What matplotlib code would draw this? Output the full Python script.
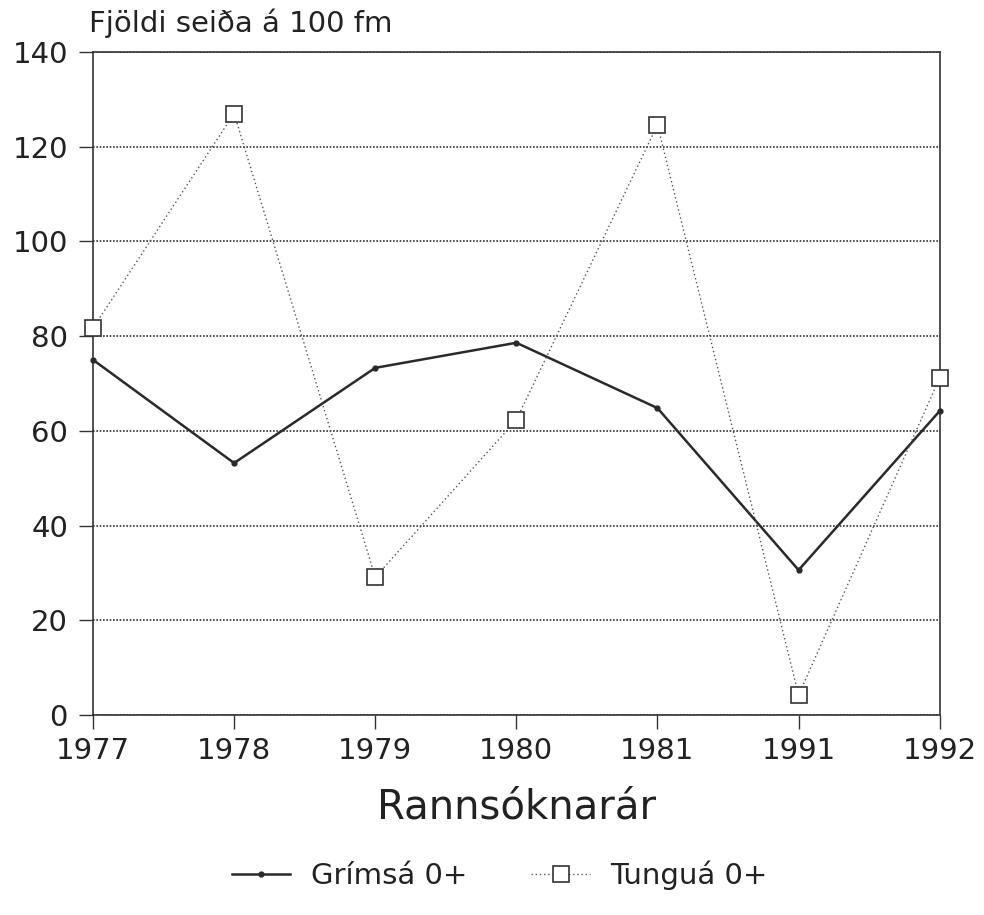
import matplotlib.pyplot as plt
import numpy as np

ar = ["1977", "1978", "1979", "1980", "1981", "1991", "1992"]
grimsa = [75.0, 53.2, 73.3, 78.6, 64.8, 30.6, 64.2]
tungua = [81.7, 127.0, 29.1, 62.3, 124.6, 4.2, 71.2]

plt.rcParams['font.family'] = ['DejaVu Sans']

fig = plt.figure(figsize=(9.84, 9.15), dpi=100)
ax = fig.add_axes([0.0945, 0.2186, 0.8605, 0.7246])

x = np.arange(len(ar))
ax.plot(x, grimsa, color='#2a2a2a', lw=1.8, marker='o', ms=3.5,
        label='Grímsá 0+', zorder=3, clip_on=False)
ax.plot(x, tungua, color='#555555', lw=1.0, ls=(0, (1, 2)), marker='s', ms=12,
        mfc='white', mec='#333333', mew=1.2, label='Tunguá 0+', zorder=4,
        clip_on=False)

ax.set_xlim(0, len(ar) - 1)
ax.set_ylim(0, 140)
ax.set_yticks(range(0, 141, 20))
ax.set_xticks(x)
ax.set_xticklabels(ar)
ax.yaxis.grid(True, color='#333333', ls=(0, (1, 1)), lw=1.2)
ax.set_axisbelow(True)

for s in ax.spines.values():
    s.set_color('#333333')
    s.set_linewidth(1.2)

ax.tick_params(axis='both', direction='out', length=10, width=1.0,
               colors='#333333', labelsize=21, labelcolor='#222222')
ax.tick_params(axis='y', pad=8)
ax.tick_params(axis='x', pad=6)

ax.set_xlabel('Rannsóknarár', fontsize=29, color='#222222', labelpad=16)
fig.text(0.09, 0.958, 'Fjöldi seiða á 100 fm', fontsize=21, color='#222222',
         ha='left', va='bottom')

fig.legend(loc='center', bbox_to_anchor=(0.508, 0.043), ncol=2, frameon=False,
           fontsize=21, handlelength=2.0, handletextpad=0.7, columnspacing=2.2,
           labelcolor='#222222')

plt.savefig('out.png', dpi=100)
plt.close()
